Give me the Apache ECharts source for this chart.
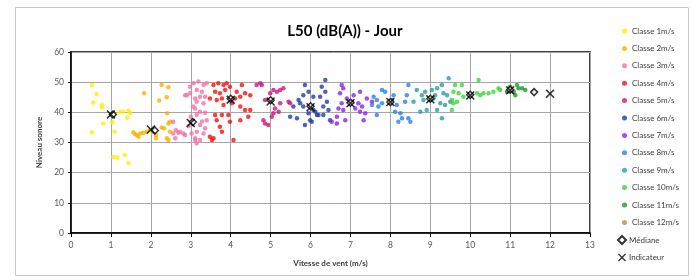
<!DOCTYPE html>
<html><head><meta charset="utf-8">
<script src="https://cdn.jsdelivr.net/npm/echarts@6/dist/echarts.min.js"></script>
<style>html,body{margin:0;padding:0;background:#fff}#c{width:691px;height:280px}</style>
</head><body><div id="c"></div>
<script>
const classNames = ['Classe 1m/s','Classe 2m/s','Classe 3m/s','Classe 4m/s','Classe 5m/s','Classe 6m/s','Classe 7m/s','Classe 8m/s','Classe 9m/s','Classe 10m/s','Classe 11m/s','Classe 12m/s'];
const classColors = ['#ffee00','#f5b400','#f472a8','#ee1111','#c8157f','#1f3f9f','#8b22ee','#2a7fe8','#2a9aa6','#3bd43b','#1c9a2a','#b09048'];
const class1 = [[0.52,49.1],[0.64,46.1],[0.56,43.3],[0.77,42.5],[0.78,41.6],[0.81,36.3],[0.52,33.4],[1.09,33.6],[1.04,36.7],[1.21,40.2],[1.31,40.2],[1.44,40.5],[1.48,39.9],[1.41,38.2],[1.06,25.2],[1.16,25.0],[1.35,25.8],[1.44,23.1]];
const class2 = [[1.83,46.3],[2.27,49.1],[2.44,48.3],[2.21,43.9],[2.40,45.0],[2.41,39.7],[1.56,33.4],[1.65,32.5],[1.73,33.0],[1.81,33.2],[1.90,33.6],[1.98,34.1],[1.69,31.9],[2.13,32.4],[2.13,31.4],[2.27,35.0],[2.33,34.7],[2.44,36.3],[2.48,36.9],[2.40,31.4],[2.44,30.8],[2.48,33.6],[1.60,32.8],[2.05,33.5]];
const class3 = [[3.07,49.6],[3.19,50.2],[3.32,49.1],[3.40,49.6],[3.15,47.4],[3.28,46.8],[3.23,45.2],[3.36,45.2],[3.15,43.5],[3.32,43.0],[3.11,41.3],[3.23,40.2],[3.36,39.9],[3.40,37.4],[3.23,35.8],[3.36,34.7],[3.15,33.6],[3.32,33.0],[3.11,31.4],[3.23,30.8],[3.15,29.7],[2.90,45.7],[2.98,46.3],[3.11,44.6],[2.98,48.5],[3.06,41.9],[3.15,39.1],[3.02,33.0],[3.11,30.8],[2.56,36.9],[2.63,34.1],[2.56,33.0],[2.69,33.2],[2.81,33.0],[2.61,31.4],[2.86,32.5],[2.73,33.6],[2.86,45.7],[3.00,38.5],[3.28,37.0],[2.95,35.5]];
const class4 = [[3.57,49.1],[3.69,49.6],[3.82,49.1],[3.90,49.6],[3.98,48.5],[4.28,49.1],[3.61,46.8],[3.73,46.3],[3.86,47.4],[4.15,46.8],[4.36,46.3],[4.49,45.7],[3.48,44.6],[3.65,44.1],[3.78,44.6],[4.11,44.6],[4.24,45.2],[3.82,42.4],[4.03,43.0],[4.24,41.9],[4.36,40.8],[4.49,40.8],[3.61,39.1],[3.78,39.1],[3.94,39.1],[4.44,38.5],[3.65,37.4],[3.98,36.9],[4.24,37.4],[3.73,35.2],[3.78,33.6],[3.48,31.9],[3.57,31.4],[3.53,30.8],[4.07,30.8]];
const class5 = [[4.65,49.1],[4.78,49.1],[4.74,49.6],[5.07,47.4],[5.16,46.8],[5.24,47.4],[4.99,46.3],[5.32,48.0],[4.86,44.1],[5.24,43.0],[5.11,41.3],[5.20,40.2],[5.07,39.7],[4.82,37.4],[4.86,36.3],[4.94,35.8],[5.03,38.5],[5.45,43.5],[5.49,43.0]];
const class6 = [[5.86,49.1],[5.95,46.8],[5.82,45.7],[5.70,44.1],[5.74,43.0],[5.57,41.9],[5.82,41.9],[5.49,38.5],[5.66,38.0],[5.86,35.8],[5.95,39.7],[6.12,40.2],[6.20,39.1],[5.99,37.4],[6.37,50.7],[6.28,48.5],[6.37,46.8],[6.24,45.2],[6.41,43.5],[6.32,41.9],[6.45,40.8],[6.07,40.8],[6.16,39.1],[6.32,39.1],[6.03,36.9],[6.49,37.4],[6.07,45.2]];
const class7 = [[6.78,49.1],[6.82,48.0],[6.74,46.3],[6.91,44.6],[6.78,43.0],[6.70,41.3],[6.82,40.8],[6.66,38.5],[6.53,36.9],[6.87,37.4],[6.66,36.3],[7.08,45.7],[7.24,46.8],[7.20,43.0],[7.12,41.3],[7.29,41.9],[7.24,40.2],[7.37,39.7],[7.33,37.4],[7.41,44.6],[7.54,43.5],[7.04,43.5]];
const class8 = [[7.79,47.4],[7.87,46.8],[7.58,45.2],[7.66,44.1],[7.79,43.0],[7.54,42.4],[7.70,41.9],[7.66,39.1],[8.16,42.4],[8.12,40.2],[8.25,39.7],[8.20,36.9],[8.29,38.0],[8.45,38.0],[8.50,36.9],[8.41,45.7],[8.45,49.1],[8.08,45.7],[8.37,43.5],[8.04,44.1]];
const class9 = [[8.66,47.4],[8.87,46.8],[8.79,45.7],[8.83,44.1],[8.58,43.5],[8.75,40.2],[8.91,40.8],[9.04,47.4],[9.12,45.7],[9.46,51.3],[9.29,49.1],[9.17,48.0],[9.33,46.3],[9.42,45.7],[9.25,43.0],[9.37,42.4],[9.50,43.5],[9.17,40.8],[9.29,38.0],[9.08,44.6]];
const class10 = [[9.62,49.1],[9.79,49.1],[10.21,50.7],[9.58,46.8],[9.71,46.3],[9.54,44.1],[9.67,43.5],[9.58,43.0],[9.54,40.8],[9.83,45.2],[10.17,46.3],[10.25,45.7],[10.33,46.3],[10.46,46.3],[10.58,46.8],[10.71,48.0],[10.75,47.4]];
const class11 = [[11.17,49.1],[11.21,48.0],[11.30,48.0],[11.38,47.4],[11.13,45.7],[10.92,46.8],[11.09,46.8],[11.00,48.5]];
const class12 = [[11.58,46.8]];
const classData = [class1,class2,class3,class4,class5,class6,class7,class8,class9,class10,class11,class12];
const medianX = [1.05,2.1,3.05,4.0,5.0,6.0,7.0,8.0,9.0,10.0,11.0,11.6];
const medianY = [39.3,34.0,36.8,44.5,44.0,42.0,43.2,43.4,44.5,45.8,47.5,46.7];
const indicX = [1,2,3,4,5,6,7,8,9,10,11,12];
const indicY = [39.3,34.3,36.5,44.2,43.6,41.7,43.0,43.4,44.3,45.6,47.3,46.2];
const xTicks = [0,1,2,3,4,5,6,7,8,9,10,11,12,13];
const yTicks = [0,10,20,30,40,50,60];

const FONT = 'Lato';
const xPath = 'path://M0,1.2L1.2,0L5,3.8L8.8,0L10,1.2L6.2,5L10,8.8L8.8,10L5,6.2L1.2,10L0,8.8L3.8,5Z';
const series = classNames.map((n,i)=>({
  name:n, type:'scatter', data:classData[i], symbol:'circle', symbolSize:4.5,
  itemStyle:{color:classColors[i]}, z:2
}));
series.push({name:'Médiane', type:'scatter', data:medianX.map((x,i)=>[x,medianY[i]]), symbol:'diamond', symbolSize:7,
  itemStyle:{color:'#ffffff', borderColor:'#000', borderWidth:1.5}, z:3});
series.push({name:'Indicateur', type:'scatter', data:indicX.map((x,i)=>[x,indicY[i]]), symbol:xPath, symbolSize:9,
  itemStyle:{color:'#000'}, z:4});

const chart = echarts.init(document.getElementById('c'), null, {renderer:'canvas'});
chart.setOption({
  animation:false,
  textStyle:{fontFamily:FONT},
  title:{text:'L50 (dB(A)) - Jour', left:340, top:19, textAlign:'center',
    textStyle:{fontFamily:FONT, fontSize:15, fontWeight:'bold', color:'#000'}},
  graphic:[{type:'rect', shape:{x:15.5,y:7.5,width:673,height:268}, style:{fill:'none', stroke:'#c8c8c8', lineWidth:1}, silent:true}],
  legend:[{
    data:classNames, orient:'vertical', left:617, top:21, itemWidth:5, itemHeight:5, itemGap:7.4,
    icon:'circle',
    textStyle:{fontFamily:FONT, fontSize:8, color:'#404040', lineHeight:10}
  },{
    data:['Médiane','Indicateur'], orient:'vertical', left:612, top:230, itemWidth:8, itemHeight:8, itemGap:7.5,
    textStyle:{fontFamily:FONT, fontSize:8, color:'#404040', lineHeight:10, padding:[0,0,0,-2]}
  }],
  grid:{left:71, right:101, top:52, bottom:47, show:true, borderColor:'#000', borderWidth:1.5, backgroundColor:'transparent'},
  xAxis:{type:'value', min:0, max:13, interval:1,
    name:'Vitesse de vent (m/s)', nameLocation:'middle', nameGap:26,
    nameTextStyle:{fontFamily:FONT, fontSize:8, fontWeight:'bold', color:'#404040'},
    axisLine:{show:true, onZero:false, lineStyle:{color:'#000', width:1.5}},
    axisTick:{show:true, length:4, lineStyle:{color:'#000'}},
    axisLabel:{fontFamily:FONT, fontSize:8.5, color:'#595959', margin:8, formatter:v=>xTicks.includes(v)?String(v):''},
    splitLine:{show:true, lineStyle:{color:'#a6a6a6', width:1}}
  },
  yAxis:{type:'value', min:0, max:60, interval:10,
    name:'Niveau sonore', nameLocation:'middle', nameGap:26, nameRotate:90,
    nameTextStyle:{fontFamily:FONT, fontSize:8, fontWeight:'bold', color:'#404040'},
    axisLine:{show:true, onZero:false, lineStyle:{color:'#000', width:1.5}},
    axisTick:{show:true, length:3, lineStyle:{color:'#000'}},
    axisLabel:{fontFamily:FONT, fontSize:8.5, color:'#595959', margin:7, formatter:v=>yTicks.includes(v)?String(v):''},
    splitLine:{show:true, lineStyle:{color:'#a6a6a6', width:1}}
  },
  series:series
});
</script></body></html>
